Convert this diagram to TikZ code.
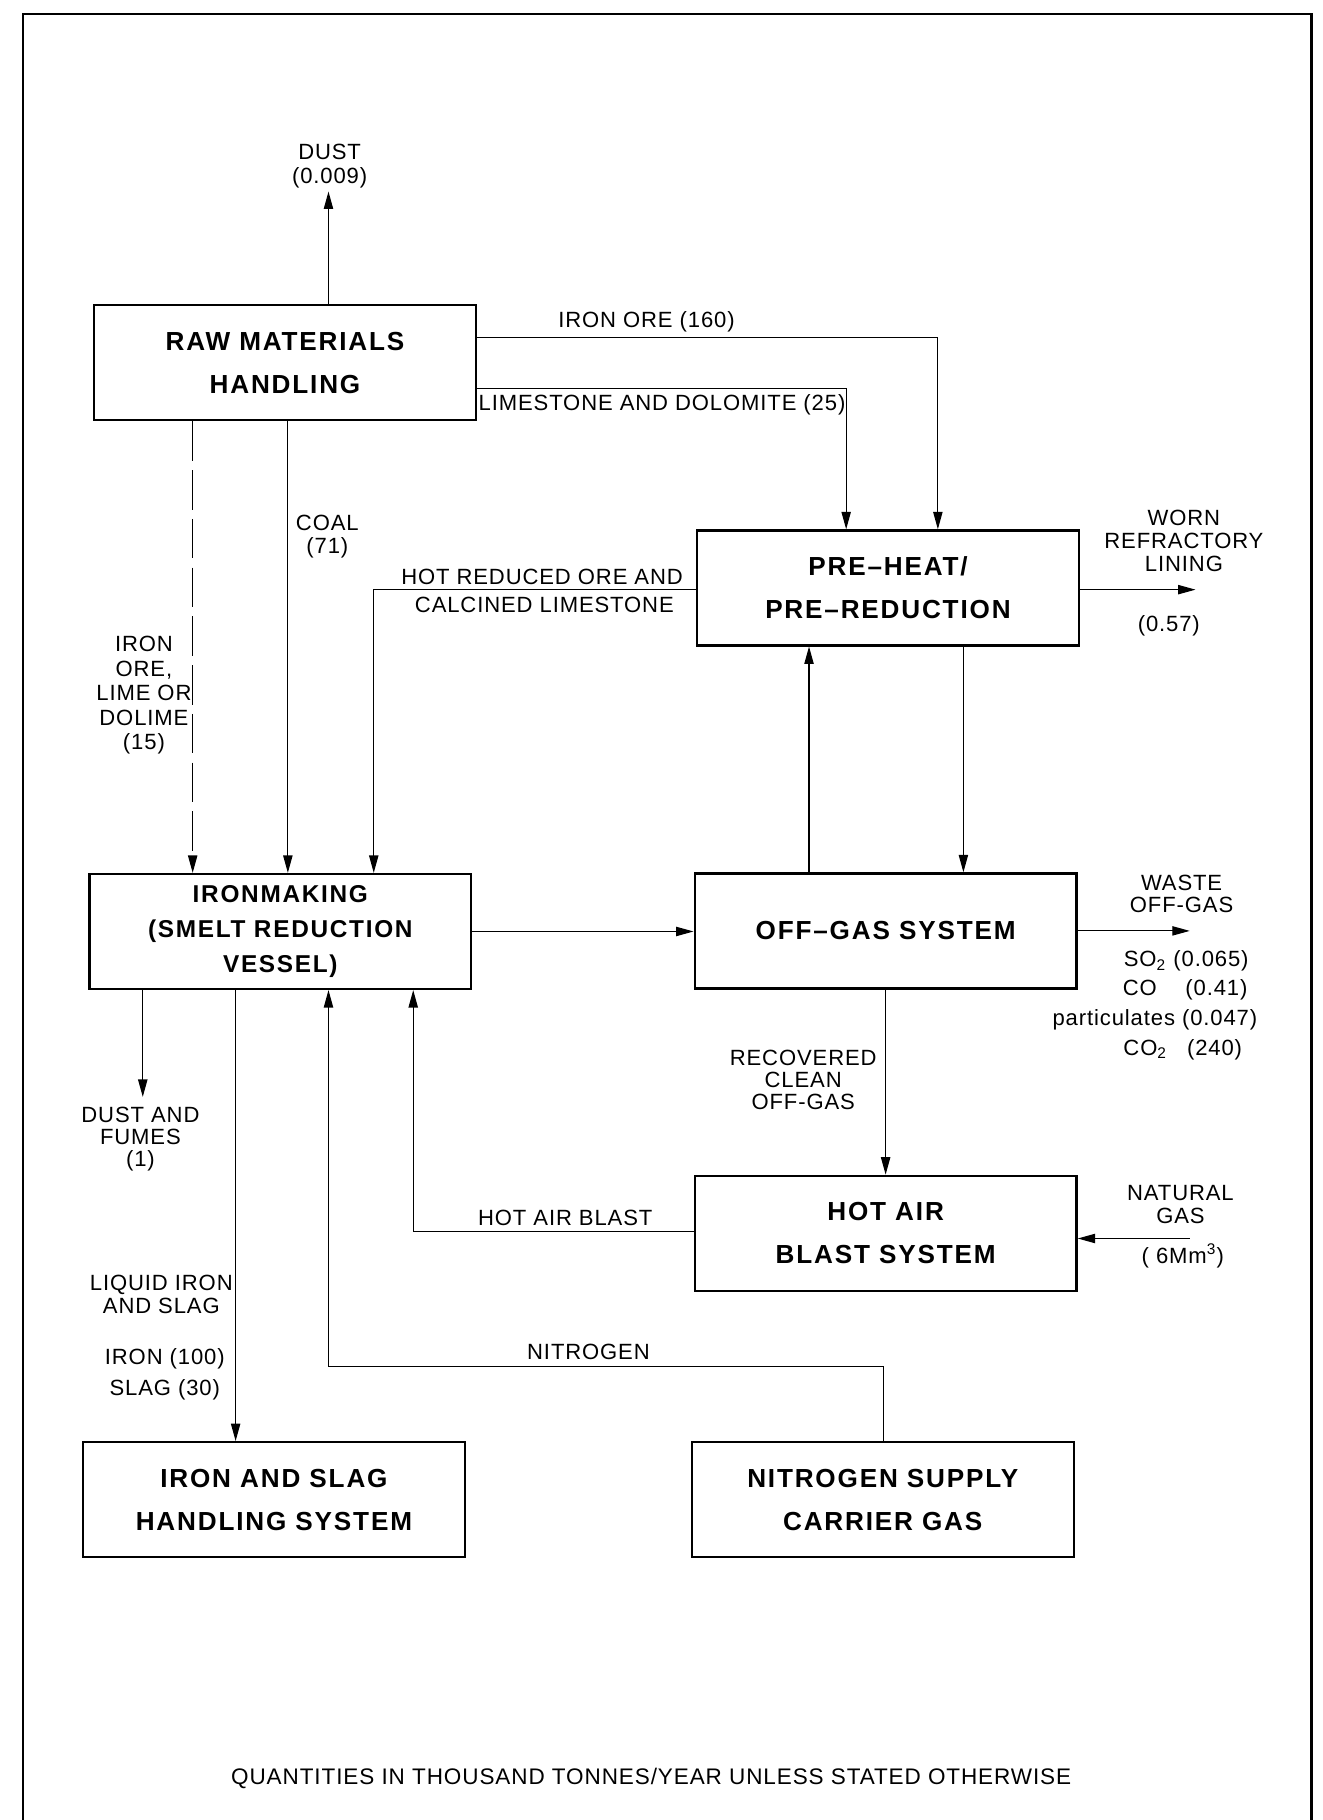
\documentclass[tikz,border=0pt]{standalone}
\usepackage{fontspec}
\setmainfont{Liberation Sans}
\newfontfamily\boxfont[LetterSpace=7]{Liberation Sans}
\newfontfamily\lblfont[LetterSpace=4]{Liberation Sans}
\usetikzlibrary{arrows.meta}
\begin{document}
\begin{tikzpicture}[x=0.5pt,y=-0.5pt,
  box/.style={draw, line width=1pt, minimum width=164.5pt, minimum height=49.5pt,
    inner sep=0pt, align=center, font=\boxfont\bfseries\fontsize{11.25}{18.5}\selectfont},
  lbl/.style={inner sep=0pt, align=center, font=\lblfont\fontsize{9.5}{10}\selectfont},
  lsk/.style={font=\lblfont\fontsize{9.5}{#1}\selectfont},
  flow/.style={line width=0.5pt, -{Triangle[length=7.5pt,width=4pt]}},
  frame/.style={line width=1pt}]
\useasboundingbox (0,0) rectangle (1139,1568);
\draw[frame] (20,1568) -- (20,12) -- (1130,12) -- (1130,1568);

% boxes
\node[box] (raw) at (245.5,312.5) {RAW MATERIALS\\HANDLING};
\node[box] (pre) at (765,506.5) {PRE–HEAT/\\PRE–REDUCTION};
\node[box, font=\boxfont\bfseries\fontsize{10.5}{15}\selectfont] (iron) at (241.5,802.5) {IRONMAKING\\(SMELT REDUCTION\\VESSEL)};
\node[box] (off) at (763,802) {OFF–GAS SYSTEM};
\node[box] (hot) at (763,1062.5) {HOT AIR\\BLAST SYSTEM};
\node[box] (slag) at (236,1292) {IRON AND SLAG\\HANDLING SYSTEM};
\node[box] (nitro) at (760.5,1292) {NITROGEN SUPPLY\\CARRIER GAS};

% helper coordinates
\coordinate (cdust) at (283,165);
\coordinate (cio) at (808,291);
\coordinate (cls) at (729,335);
\coordinate (cdash) at (166,0);
\coordinate (ccoal) at (248,0);
\coordinate (chr) at (322,508);
\coordinate (cworn) at (1030,508);
\coordinate (cup) at (697,0);
\coordinate (cdown) at (830,0);
\coordinate (cwaste) at (1025,802);
\coordinate (cdf) at (123,945);
\coordinate (cli) at (203,0);
\coordinate (cn1) at (761,1177);
\coordinate (cn2) at (283,1177);
\coordinate (chb) at (356,1061);
\coordinate (cng) at (1025,1067);

% connectors
\draw[flow] (raw.north -| cdust) -- (cdust);
\draw[flow] (raw.east |- cio) -| (pre.north -| cio);
\draw[flow] (raw.east |- cls) -| (pre.north -| cls);
\draw[flow, dash pattern=on 17pt off 4pt] (raw.south -| cdash) -- (iron.north -| cdash);
\draw[flow] (raw.south -| ccoal) -- (iron.north -| ccoal);
\draw[flow] (pre.west |- chr) -| (iron.north -| chr);
\draw[flow] (pre.east |- chr) -- (cworn);
\draw[flow] (off.north -| cup) -- (pre.south -| cup);
\draw[flow] (pre.south -| cdown) -- (off.north -| cdown);
\draw[flow] (iron.east) -- (off.west |- iron.east);
\draw[flow] (off.east) -- (cwaste);
\draw[flow] (off.south) -- (hot.north);
\draw[flow] (iron.south -| cdf) -- (cdf);
\draw[flow] (iron.south -| cli) -- (slag.north -| cli);
\draw[flow] (nitro.north -| cn1) |- (cn2) -- (iron.south -| cn2);
\draw[flow] (hot.west |- chb) -| (iron.south -| chb);
\draw[flow] (cng) -- (hot.east |- cng);

% labels
\node[lbl] (tdust) at (284,143) {DUST\\(0.009)};
\node[lbl] (tio) at (557,277) {IRON ORE (160)};
\node[lbl, anchor=west] (tls) at (412,349) {LIMESTONE AND DOLOMITE (25)};
\node[lbl, lsk=10.5] (tdash) at (124,599) {IRON\\ORE,\\LIME OR\\DOLIME\\(15)};
\node[lbl] (tcoal) at (282,462) {COAL\\(71)};
\node[lbl] (thr1) at (467,497) {HOT REDUCED ORE AND};
\node[lbl] (thr2) at (469,521) {CALCINED LIMESTONE};
\node[lbl, lsk=9.75] (tworn) at (1020,466) {WORN\\REFRACTORY\\LINING};
\node[lbl] (tworn2) at (1007,539) {(0.57)};
\node[lbl, lsk=9.75] (twaste) at (1018,770) {WASTE\\OFF-GAS};
\node[lbl] (tso) at (1022,828) {SO\textsubscript{2} (0.065)};
\node[lbl] (tco) at (1021,853) {CO\hspace{1.3em}(0.41)};
\node[lbl] (tpart) at (995,879) {particulates (0.047)};
\node[lbl] (tco2) at (1019,904) {CO\textsubscript{2}\hspace{0.9em}(240)};
\node[lbl, lsk=9.5] (trec) at (692,930) {RECOVERED\\CLEAN\\OFF-GAS};
\node[lbl, lsk=9.5] (tdf) at (121,981) {DUST AND\\FUMES\\(1)};
\node[lbl] (tli) at (139,1115) {LIQUID IRON\\AND SLAG};
\node[lbl, lsk=13] (tis) at (142,1184) {IRON (100)\\SLAG (30)};
\node[lbl] (tn) at (507,1165) {NITROGEN};
\node[lbl] (thb) at (487,1049) {HOT AIR BLAST};
\node[lbl] (tng) at (1017,1038) {NATURAL\\GAS};
\node[lbl] (tng2) at (1019,1082) {( 6Mm\textsuperscript{3})};
\node[lbl, font=\lblfont\fontsize{9.7}{10}\selectfont] (tfoot) at (561,1532) {QUANTITIES IN THOUSAND TONNES/YEAR UNLESS STATED OTHERWISE};
\end{tikzpicture}
\end{document}
